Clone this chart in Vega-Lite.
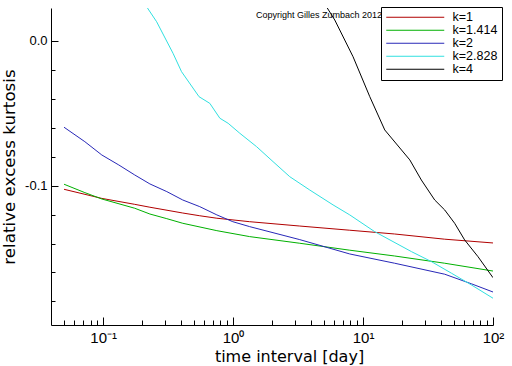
{
  "$schema": "https://vega.github.io/schema/vega-lite/v6.json",
  "width": 442,
  "height": 317,
  "autosize": "none",
  "padding": {"left": 51, "top": 8, "right": 19, "bottom": 41},
  "background": "white",
  "config": {
    "view": {"stroke": null},
    "axis": {"grid": false, "domainColor": "black", "tickColor": "black", "labelColor": "black", "titleColor": "black", "domainWidth": 1, "tickWidth": 1}
  },
  "data": {"values": [
    {"k": "k=1", "t": 0.05, "v": -0.1025},
    {"k": "k=1", "t": 0.0977, "v": -0.1088},
    {"k": "k=1", "t": 0.175, "v": -0.1129},
    {"k": "k=1", "t": 0.229, "v": -0.1149},
    {"k": "k=1", "t": 0.41, "v": -0.1189},
    {"k": "k=1", "t": 0.554, "v": -0.1208},
    {"k": "k=1", "t": 0.75, "v": -0.1225},
    {"k": "k=1", "t": 1.34, "v": -0.1249},
    {"k": "k=1", "t": 3.26, "v": -0.1279},
    {"k": "k=1", "t": 7.9, "v": -0.1308},
    {"k": "k=1", "t": 17.5, "v": -0.1334},
    {"k": "k=1", "t": 42.5, "v": -0.137},
    {"k": "k=1", "t": 100, "v": -0.1396},
    {"k": "k=1.414", "t": 0.05, "v": -0.099},
    {"k": "k=1.414", "t": 0.0723, "v": -0.1048},
    {"k": "k=1.414", "t": 0.0977, "v": -0.1092},
    {"k": "k=1.414", "t": 0.175, "v": -0.1156},
    {"k": "k=1.414", "t": 0.229, "v": -0.1196},
    {"k": "k=1.414", "t": 0.309, "v": -0.1228},
    {"k": "k=1.414", "t": 0.41, "v": -0.126},
    {"k": "k=1.414", "t": 0.75, "v": -0.1311},
    {"k": "k=1.414", "t": 1.34, "v": -0.1352},
    {"k": "k=1.414", "t": 3.26, "v": -0.1398},
    {"k": "k=1.414", "t": 7.9, "v": -0.1446},
    {"k": "k=1.414", "t": 17.5, "v": -0.1486},
    {"k": "k=1.414", "t": 42.5, "v": -0.1536},
    {"k": "k=1.414", "t": 100, "v": -0.159},
    {"k": "k=2", "t": 0.05, "v": -0.0596},
    {"k": "k=2", "t": 0.0723, "v": -0.0696},
    {"k": "k=2", "t": 0.0977, "v": -0.0788},
    {"k": "k=2", "t": 0.132, "v": -0.0857},
    {"k": "k=2", "t": 0.175, "v": -0.0926},
    {"k": "k=2", "t": 0.229, "v": -0.0988},
    {"k": "k=2", "t": 0.309, "v": -0.1041},
    {"k": "k=2", "t": 0.41, "v": -0.1099},
    {"k": "k=2", "t": 0.554, "v": -0.1145},
    {"k": "k=2", "t": 0.75, "v": -0.1202},
    {"k": "k=2", "t": 0.995, "v": -0.1249},
    {"k": "k=2", "t": 1.34, "v": -0.1283},
    {"k": "k=2", "t": 3.26, "v": -0.1373},
    {"k": "k=2", "t": 7.9, "v": -0.1472},
    {"k": "k=2", "t": 17.5, "v": -0.1536},
    {"k": "k=2", "t": 42.5, "v": -0.1612},
    {"k": "k=2", "t": 68.6, "v": -0.1679},
    {"k": "k=2", "t": 100, "v": -0.1735},
    {"k": "k=2.828", "t": 0.216, "v": 0.0237},
    {"k": "k=2.828", "t": 0.258, "v": 0.0133},
    {"k": "k=2.828", "t": 0.345, "v": -0.0085},
    {"k": "k=2.828", "t": 0.401, "v": -0.0212},
    {"k": "k=2.828", "t": 0.547, "v": -0.0385},
    {"k": "k=2.828", "t": 0.662, "v": -0.0431},
    {"k": "k=2.828", "t": 0.791, "v": -0.0534},
    {"k": "k=2.828", "t": 0.916, "v": -0.0569},
    {"k": "k=2.828", "t": 1.127, "v": -0.0638},
    {"k": "k=2.828", "t": 1.514, "v": -0.073},
    {"k": "k=2.828", "t": 2.03, "v": -0.0834},
    {"k": "k=2.828", "t": 2.73, "v": -0.0938},
    {"k": "k=2.828", "t": 3.89, "v": -0.103},
    {"k": "k=2.828", "t": 5.88, "v": -0.1133},
    {"k": "k=2.828", "t": 7.9, "v": -0.1202},
    {"k": "k=2.828", "t": 12.3, "v": -0.1318},
    {"k": "k=2.828", "t": 23.6, "v": -0.1456},
    {"k": "k=2.828", "t": 33.6, "v": -0.1525},
    {"k": "k=2.828", "t": 47.9, "v": -0.1605},
    {"k": "k=2.828", "t": 68.2, "v": -0.1686},
    {"k": "k=2.828", "t": 100, "v": -0.1778},
    {"k": "k=4", "t": 5.23, "v": 0.0237},
    {"k": "k=4", "t": 6.06, "v": 0.0145},
    {"k": "k=4", "t": 8.38, "v": -0.0109},
    {"k": "k=4", "t": 11.27, "v": -0.0385},
    {"k": "k=4", "t": 14.69, "v": -0.0615},
    {"k": "k=4", "t": 22.9, "v": -0.0822},
    {"k": "k=4", "t": 28.1, "v": -0.0961},
    {"k": "k=4", "t": 35.6, "v": -0.1099},
    {"k": "k=4", "t": 42.5, "v": -0.1168},
    {"k": "k=4", "t": 50.7, "v": -0.126},
    {"k": "k=4", "t": 60.5, "v": -0.1375},
    {"k": "k=4", "t": 76.7, "v": -0.1491},
    {"k": "k=4", "t": 100, "v": -0.1636}
  ]},
  "encoding": {
    "x": {
      "field": "t", "type": "quantitative",
      "scale": {"type": "log", "domain": [0.0397, 100], "nice": false},
      "axis": {
        "values": [0.05, 0.06, 0.07, 0.08, 0.09, 0.1, 0.2, 0.3, 0.4, 0.5, 0.6, 0.7, 0.8, 0.9, 1, 2, 3, 4, 5, 6, 7, 8, 9, 10, 20, 30, 40, 50, 60, 70, 80, 90, 100],
        "labelExpr": "abs(datum.value-0.1)<1e-9 ? '10⁻¹' : abs(datum.value-1)<1e-9 ? '10⁰' : abs(datum.value-10)<1e-9 ? '10¹' : abs(datum.value-100)<1e-9 ? '10²' : ''",
        "tickSize": {"condition": {"test": "abs(log(datum.value)/LN10 - round(log(datum.value)/LN10)) < 1e-6", "value": -8}, "value": -5},
        "labelFont": "Liberation Sans", "labelFontSize": 15, "labelPadding": 13,
        "labelFlush": false, "labelOverlap": false,
        "title": "time interval [day]", "titleFont": "DejaVu Sans", "titleFontSize": 16, "titleFontWeight": "normal",
        "titlePadding": 0, "titleX": 238
      }
    },
    "y": {
      "field": "v", "type": "quantitative",
      "scale": {"domain": [-0.1963, 0.0228], "nice": false, "zero": false},
      "axis": {
        "values": [0, -0.02, -0.04, -0.06, -0.08, -0.1, -0.12, -0.14, -0.16, -0.18],
        "labelExpr": "abs(datum.value)<1e-9 ? '0.0' : abs(datum.value+0.1)<1e-9 ? '-0.1' : ''",
        "tickSize": {"condition": {"test": "abs(datum.value)<1e-9 || abs(datum.value+0.1)<1e-9", "value": -7}, "value": -4},
        "labelFont": "Liberation Sans", "labelFontSize": 13, "labelPadding": 11,
        "labelFlush": false, "labelOverlap": false,
        "title": "relative excess kurtosis", "titleFont": "DejaVu Sans", "titleFontSize": 16.7, "titleFontWeight": "normal",
        "titleX": -33
      }
    }
  },
  "layer": [
    {
      "mark": {"type": "line", "clip": true, "strokeWidth": 1},
      "encoding": {
        "color": {
          "field": "k", "type": "nominal",
          "scale": {"domain": ["k=1", "k=1.414", "k=2", "k=2.828", "k=4"], "range": ["#b00000", "#00b000", "#2828b8", "#30e0e0", "#000000"]},
          "legend": {
            "title": null, "orient": "none", "legendX": 330, "legendY": -1,
            "strokeColor": "black", "padding": 4, "fillColor": "white",
            "symbolType": "M-1,0H10.6", "symbolSize": 100, "symbolStrokeWidth": 1,
            "labelOffset": 55, "labelFont": "Liberation Sans", "labelFontSize": 12.5, "labelColor": "black",
            "rowPadding": 0
          }
        }
      }
    },
    {
      "data": {"values": [{"t": 1.5, "v": 0.018, "label": "Copyright Gilles Zumbach 2012"}]},
      "mark": {"type": "text", "align": "left", "baseline": "middle", "font": "Liberation Sans", "fontSize": 9, "color": "black"},
      "encoding": {"text": {"field": "label"}}
    }
  ]
}
